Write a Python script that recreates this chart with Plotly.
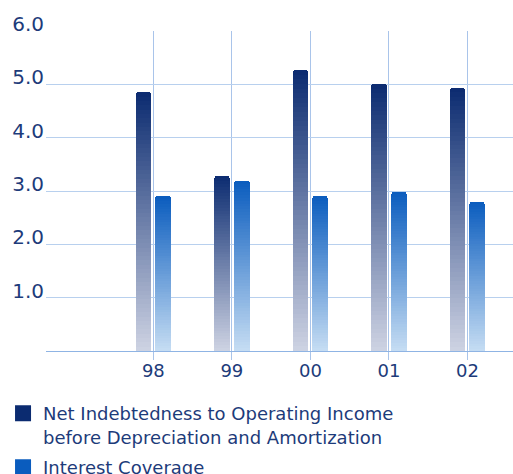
import plotly.graph_objects as go

# Fiscal years and the two ratios shown for each
years = ["98", "99", "00", "01", "02"]
net_debt_to_ebitda = [4.85, 3.29, 5.27, 5.00, 4.93]
interest_coverage = [2.90, 3.19, 2.91, 2.99, 2.80]

y_ticks = [1, 2, 3, 4, 5, 6]
y_tick_text = ["1.0", "2.0", "3.0", "4.0", "5.0", "6.0"]

# Gradient end colours (top, bottom) for each series
dark_top, dark_bottom = (11, 43, 112), (206, 211, 227)
light_top, light_bottom = (10, 92, 190), (198, 221, 243)

N_SEG = 60          # slices per bar used to build the vertical gradient
BAR_W = 0.2
SHIFT = 0.125
TEXT = "#1d3b7a"


def mix(c_top, c_bot, t):
    # t = 0 at bottom, 1 at top
    r, g, b = (round(c_bot[i] + (c_top[i] - c_bot[i]) * t) for i in range(3))
    return f"rgb({r},{g},{b})"


idx = list(range(len(years)))
x_dark = [i - SHIFT for i in idx]
x_light = [i + SHIFT for i in idx]

fig = go.Figure()

for k in range(N_SEG):
    t = (k + 0.5) / N_SEG
    colors = [mix(dark_top, dark_bottom, t)] * len(years) + \
             [mix(light_top, light_bottom, t)] * len(years)
    fig.add_trace(go.Bar(
        x=x_dark + x_light,
        y=[v / N_SEG for v in net_debt_to_ebitda] + [v / N_SEG for v in interest_coverage],
        width=BAR_W,
        marker=dict(color=colors, line=dict(width=0)),
        showlegend=False,
        hoverinfo="skip",
    ))

# Legend entries
fig.add_trace(go.Scatter(
    x=[None], y=[None], mode="markers",
    marker=dict(symbol="square", size=16, color="rgb(11,43,112)"),
    name="Net Indebtedness to Operating Income<br>before Depreciation and Amortization",
    legendgroup="a",
))
fig.add_trace(go.Scatter(
    x=[None], y=[None], mode="markers",
    marker=dict(symbol="square", size=16, color="rgb(10,92,190)"),
    name="Interest Coverage",
    legendgroup="b",
))

fig.update_layout(
    width=513, height=474,
    margin=dict(l=46, r=0, t=31, b=123, autoexpand=False),
    paper_bgcolor="white", plot_bgcolor="white",
    barmode="stack",
    bargap=0,
    barcornerradius=3,
    font=dict(family="DejaVu Sans", color=TEXT),
    showlegend=True,
    legend=dict(
        x=-0.092, y=-0.138, xanchor="left", yanchor="top",
        valign="top",
        tracegroupgap=4,
        font=dict(size=18, color=TEXT),
        bgcolor="rgba(0,0,0,0)",
    ),
    xaxis=dict(
        range=[-1.367, 4.58],
        tickmode="array", tickvals=idx, ticktext=years,
        tickangle=0,
        showgrid=True, gridcolor="#a9c4ea", gridwidth=1,
        ticks="outside", ticklen=8, tickcolor="#a9c4ea",
        showline=True, linecolor="#8fb4e4", linewidth=1,
        zeroline=False,
        ticklabelstandoff=-5,
        tickfont=dict(size=18, color=TEXT),
    ),
    yaxis=dict(
        range=[0, 6],
        tickmode="array", tickvals=y_ticks, ticktext=y_tick_text,
        showgrid=True, gridcolor="#b8d0ee", gridwidth=1,
        zeroline=False, showline=False,
        ticks="",
        ticklabelposition="outside",
        ticklabelshift=-7,
        ticklabelstandoff=1,
        tickfont=dict(size=20, color=TEXT),
    ),
)

fig.write_html("out.html")
